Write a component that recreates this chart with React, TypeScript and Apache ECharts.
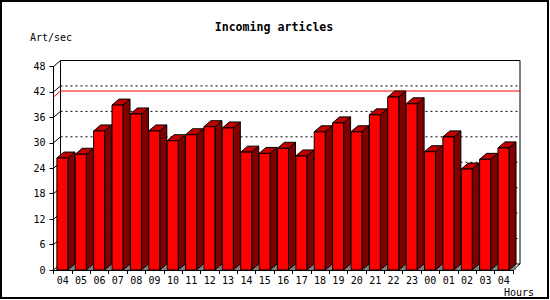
import React, { useEffect, useRef } from 'react';
import * as echarts from 'echarts';

const hours = ['04', '05', '06', '07', '08', '09', '10', '11', '12', '13', '14', '15', '16', '17', '18', '19', '20', '21', '22', '23', '00', '01', '02', '03', '04'];
const articlesPerSec = [26.4, 27.3, 32.8, 38.9, 36.8, 32.8, 30.5, 31.9, 33.8, 33.5, 27.8, 27.5, 28.7, 26.9, 32.6, 34.7, 32.6, 36.6, 40.8, 39.2, 27.9, 31.4, 23.8, 26.1, 28.8];
const yTicks = [0, 6, 12, 18, 24, 30, 36, 42, 48];
const titleText = 'Incoming articles';
const yName = 'Art/sec';
const xName = 'Hours';

const DX = 7;
const DY = 6;
const MONO = '"DejaVu Sans Mono", "Liberation Mono", monospace';

export default function App() {
  const ref = useRef<HTMLDivElement>(null);

  useEffect(() => {
    if (!ref.current) return;
    const chart = echarts.init(ref.current, undefined, { renderer: 'svg' });
    const maxVal = Math.max(...articlesPerSec);
    const yMin = yTicks[0];
    const yMax = yTicks[yTicks.length - 1];

    const frameRender = (params: any, api: any) => {
      const cs = params.coordSys;
      const left = cs.x;
      const right = cs.x + cs.width;
      const top = cs.y;
      const bottom = cs.y + cs.height;
      const children: any[] = [];
      const line = (x1: number, y1: number, x2: number, y2: number, style: any) => ({
        type: 'line',
        shape: { x1, y1, x2, y2 },
        style: Object.assign({ stroke: '#000', lineWidth: 1 }, style),
        silent: true,
      });
      yTicks.forEach((v) => {
        const y = api.coord([0, v])[1];
        if (v > yMin && v < yMax) {
          children.push(line(left + DX, y - DY, right + DX, y - DY, { lineDash: [2, 3] }));
        }
        children.push(line(left, y, left + DX, y - DY, {}));
      });
      children.push(line(left + DX, top - DY, right + DX, top - DY, {}));
      children.push(line(left + DX, top - DY, left + DX, bottom - DY, {}));
      children.push(line(right + DX, top - DY, right + DX, bottom - DY, {}));
      children.push(line(left + DX, bottom - DY, right + DX, bottom - DY, {}));
      children.push(line(right, bottom, right + DX, bottom - DY, {}));
      const yM = api.coord([0, maxVal])[1];
      children.push(line(left, yM, left + DX, yM - DY, { stroke: '#ff0000' }));
      children.push(line(left + DX, yM - DY, right + DX, yM - DY, { stroke: '#ff0000' }));
      return { type: 'group', children };
    };

    const barRender = (params: any, api: any) => {
      const i = api.value(0);
      const v = api.value(1);
      const t = api.coord([i, v]);
      const b = api.coord([i, 0]);
      const cw = api.size([1, 0])[0];
      const w = cw * 0.6;
      const x0 = t[0] - w / 2 - 0.3;
      const x1 = x0 + w;
      const yt = t[1];
      const yb = b[1];
      const stroke = { stroke: '#000', lineWidth: 1 };
      return {
        type: 'group',
        children: [
          {
            type: 'polygon',
            shape: { points: [[x1, yb], [x1 + DX, yb - DY], [x1 + DX, yb]] },
            style: { fill: '#808080' },
          },
          {
            type: 'polygon',
            shape: { points: [[x1, yt], [x1 + DX, yt - DY], [x1 + DX, yb - DY], [x1, yb]] },
            style: Object.assign({ fill: '#800000' }, stroke),
          },
          {
            type: 'polygon',
            shape: { points: [[x0, yt], [x0 + DX, yt - DY], [x1 + DX, yt - DY], [x1, yt]] },
            style: Object.assign({ fill: '#c00000' }, stroke),
          },
          {
            type: 'rect',
            shape: { x: x0, y: yt, width: w, height: yb - yt },
            style: Object.assign({ fill: '#ff0000' }, stroke),
          },
        ],
      };
    };

    chart.setOption({
      animation: false,
      backgroundColor: '#ffffff',
      textStyle: { fontFamily: MONO },
      grid: { left: 53.5, right: 37, top: 66.5, bottom: 30, containLabel: false },
      xAxis: {
        type: 'category',
        data: hours,
        boundaryGap: true,
        axisLine: { show: true, lineStyle: { color: '#000', width: 1 } },
        axisTick: { show: true, length: 4, lineStyle: { color: '#000' } },
        axisLabel: { interval: 0, color: '#000', fontSize: 10, fontFamily: MONO, margin: 5 },
        splitLine: { show: false },
      },
      yAxis: {
        type: 'value',
        min: yMin,
        max: yMax,
        interval: 6,
        axisLine: { show: true, lineStyle: { color: '#000', width: 1 } },
        axisTick: { show: true, length: 4, lineStyle: { color: '#000' } },
        axisLabel: { color: '#000', fontSize: 10, fontFamily: MONO, margin: 8 },
        splitLine: { show: false },
      },
      series: [
        {
          type: 'custom',
          name: 'frame',
          renderItem: frameRender,
          data: [[0, 0]],
          z: 1,
          silent: true,
        },
        {
          type: 'custom',
          name: 'Incoming articles',
          renderItem: barRender,
          data: articlesPerSec.map((v, i) => [i, v]),
          encode: { x: 0, y: 1 },
          z: 2,
        },
      ],
      graphic: [
        {
          type: 'rect',
          shape: { x: 1, y: 1, width: 547, height: 297 },
          style: { fill: 'none', stroke: '#000', lineWidth: 2 },
          silent: true,
          z: 100,
        },
        {
          type: 'text',
          x: 274,
          y: 27,
          style: {
            text: titleText,
            fontFamily: MONO,
            fontSize: 11.6,
            fontWeight: 'bold',
            fill: '#000',
            textAlign: 'center',
            textVerticalAlign: 'middle',
          },
        },
        {
          type: 'text',
          x: 30,
          y: 37,
          style: {
            text: yName,
            fontFamily: MONO,
            fontSize: 10,
            fill: '#000',
            textAlign: 'left',
            textVerticalAlign: 'middle',
          },
        },
        {
          type: 'text',
          x: 504,
          y: 292,
          style: {
            text: xName,
            fontFamily: MONO,
            fontSize: 10,
            fill: '#000',
            textAlign: 'left',
            textVerticalAlign: 'middle',
          },
        },
      ],
    });

    return () => {
      chart.dispose();
    };
  }, []);

  return (
    <div
      ref={ref}
      style={{ position: 'fixed', left: 0, top: 0, width: 550, height: 300, background: '#fff' }}
    />
  );
}
